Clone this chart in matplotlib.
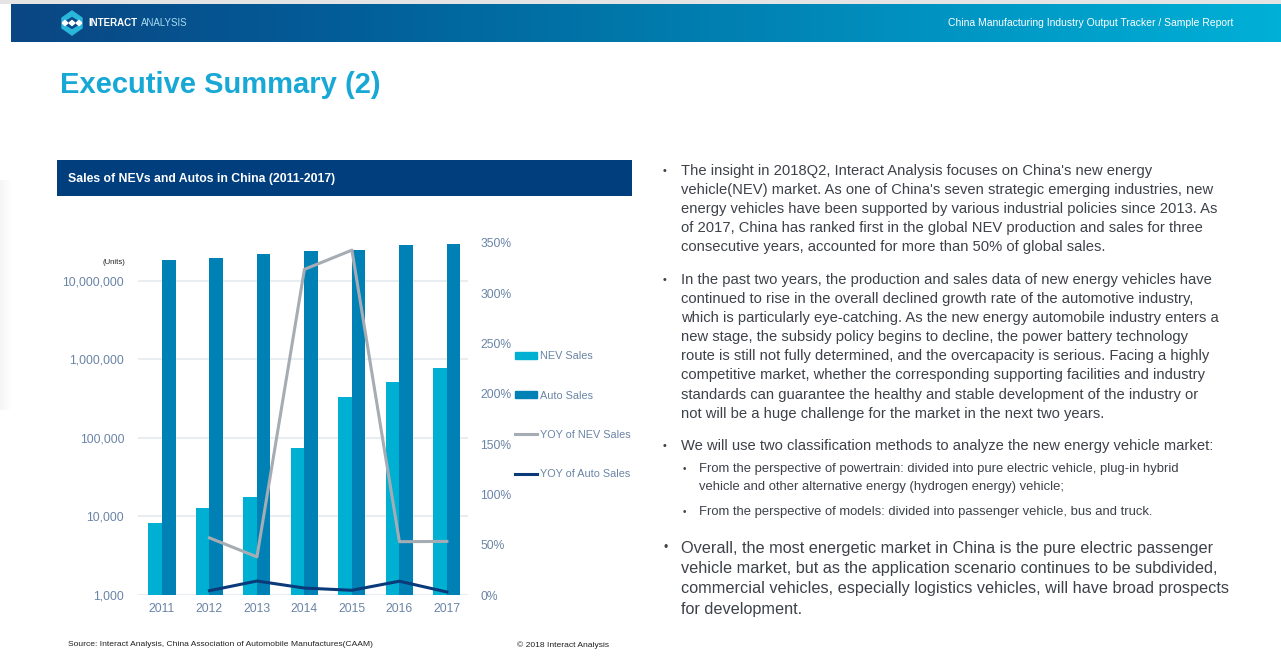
import numpy as np
import matplotlib
matplotlib.use("Agg")
import matplotlib.pyplot as plt
from matplotlib.patches import Rectangle, Polygon
from matplotlib.lines import Line2D
from matplotlib.ticker import FixedLocator, FuncFormatter
from matplotlib.colors import LinearSegmentedColormap

# ---------------- data ----------------
years = ["2011", "2012", "2013", "2014", "2015", "2016", "2017"]
nev_sales = [8159, 12791, 17642, 74763, 331092, 507000, 777000]
auto_sales = [18505000, 19306000, 21984000, 23492000, 24598000, 28028000, 28879000]
yoy_nev = [None, 0.568, 0.379, 3.238, 3.429, 0.530, 0.533]
yoy_auto = [None, 0.043, 0.139, 0.069, 0.047, 0.137, 0.030]
left_ticks = [1000, 10000, 100000, 1000000, 10000000]
right_ticks = [0, 0.5, 1.0, 1.5, 2.0, 2.5, 3.0, 3.5]

W, H = 1281, 656
FONT = ["Liberation Sans", "DejaVu Sans"]
plt.rcParams["font.family"] = FONT

fig = plt.figure(figsize=(W / 100, H / 100), dpi=100)
bg = fig.add_axes([0, 0, 1, 1])
bg.set_xlim(0, W)
bg.set_ylim(H, 0)
bg.axis("off")

# faint left-edge shadow
shade = LinearSegmentedColormap.from_list("sh", ["#f5f5f5", "#ffffff"])
bg.imshow(np.linspace(0, 1, 64)[None, :], cmap=shade, extent=(0, 11, 410, 180), aspect="auto", zorder=0)

# top grey strip
bg.add_patch(Rectangle((0, 0), W, 4, color="#e4e4e4", lw=0))
# header gradient
grad = np.linspace(0, 1, 256)[None, :]
cmap = LinearSegmentedColormap.from_list("hdr", ["#0a4683", "#035c98", "#0079ab", "#0096c4", "#00b0d6"])
bg.imshow(grad, cmap=cmap, extent=(11, W, 42, 4), aspect="auto", zorder=1)
# logo
cx, cy = 72, 23
bg.add_patch(Polygon([(cx - 10, cy - 5), (cx, cy - 12), (cx + 10, cy - 5), (cx + 10, cy - 1), (cx, cy - 7), (cx - 10, cy - 1)],
                     closed=True, color="#2bb7dc", zorder=3))
bg.add_patch(Polygon([(cx - 10, cy + 1), (cx, cy + 7), (cx + 10, cy + 1), (cx + 10, cy + 5), (cx, cy + 12), (cx - 10, cy + 5)],
                     closed=True, color="#2bb7dc", zorder=3))
for dx in (-7, 0, 7):
    bg.add_patch(Polygon([(cx + dx - 3, cy), (cx + dx, cy - 2.5), (cx + dx + 3, cy), (cx + dx, cy + 2.5)],
                         closed=True, color="#ffffff", zorder=3))
t1 = bg.text(88, 23.5, "INTERACT", color="white", fontsize=7, fontweight="bold", va="center", ha="left", zorder=4)
bg.annotate("ANALYSIS", xy=(1, 0.5), xycoords=t1, xytext=(2.5, 0), textcoords="offset points",
            color="#a9dcee", fontsize=7, va="center", ha="left", zorder=4)
bg.text(1233, 23.5, "China Manufacturing Industry Output Tracker / Sample Report", color="white",
        fontsize=7.5, va="center", ha="right", zorder=4)

# title
bg.text(60, 85, "Executive Summary (2)", color="#18a8d6", fontsize=21, fontweight="bold", va="center", ha="left")

# chart title bar
bg.add_patch(Rectangle((57, 160), 575, 36, color="#003e7e", lw=0))
bg.text(68, 179, "Sales of NEVs and Autos in China (2011-2017)", color="white", fontsize=8.8,
        fontweight="bold", va="center", ha="left")

# source / copyright
bg.text(68, 645, "Source: Interact Analysis, China Association of Automobile Manufactures(CAAM)",
        color="#222222", fontsize=6.1, va="center", ha="left")
bg.text(517, 645, "\u00a9 2018 Interact Analysis", color="#222222", fontsize=6.1, va="center", ha="left")
bg.text(125, 263, "(Units)", color="#222222", fontsize=5.5, va="center", ha="right")

# ---------------- chart ----------------
L, R, T, B = 138, 468, 243, 595
ax = fig.add_axes([L / W, (H - B) / H, (R - L) / W, (B - T) / H])
x = np.arange(len(years))
bw = 0.285
ax.bar(x - bw / 2, nev_sales, width=bw, color="#00b0d2", label="NEV Sales", zorder=3)
ax.bar(x + bw / 2, auto_sales, width=bw, color="#0081b5", label="Auto Sales", zorder=3)
ax.set_yscale("log")
ax.set_ylim(1000, 1000 * 10 ** ((B - T) / 78.6))
ax.set_xlim(-0.505, 6.445)
ax.yaxis.set_major_locator(FixedLocator(left_ticks))
ax.yaxis.set_minor_locator(FixedLocator([]))
ax.yaxis.set_major_formatter(FuncFormatter(lambda v, p: f"{int(round(v)):,}"))
ax.set_xticks(x)
ax.set_xticklabels(years)
ax.grid(axis="y", color="#e8edf2", lw=1.5, zorder=0)
for s in ax.spines.values():
    s.set_visible(False)
ax.tick_params(axis="both", length=0, colors="#6a84a6", labelsize=8.7)
ax.tick_params(axis="y", pad=10)
ax.tick_params(axis="x", pad=6)

ax2 = ax.twinx()
yn = [np.nan if v is None else v for v in yoy_nev]
ya = [np.nan if v is None else v for v in yoy_auto]
ax2.plot(x, yn, color="#a6acb3", lw=2.2, label="YOY of NEV Sales", zorder=4)
ax2.plot(x, ya, color="#0b3a7a", lw=2.2, label="YOY of Auto Sales", zorder=4)
ax2.set_ylim(0, 3.5)
ax2.set_yticks(right_ticks)
ax2.yaxis.set_major_formatter(FuncFormatter(lambda v, p: f"{v * 100:.0f}%"))
for s in ax2.spines.values():
    s.set_visible(False)
ax2.tick_params(axis="y", length=0, colors="#6a84a6", labelsize=8.7, pad=9)

handles = [Rectangle((0, 0), 1, 1, color="#00b0d2"), Rectangle((0, 0), 1, 1, color="#0081b5"),
           Line2D([], [], color="#a6acb3", lw=2.2), Line2D([], [], color="#0b3a7a", lw=2.2)]
labels = ["NEV Sales", "Auto Sales", "YOY of NEV Sales", "YOY of Auto Sales"]
fig.legend(handles, labels, loc="upper left", bbox_to_anchor=(510 / W, 1 - 346 / H), frameon=False,
           fontsize=7.8, labelcolor="#6a84a6", labelspacing=2.7, handlelength=2.0, handleheight=0.6,
           handletextpad=0.25, borderpad=0)

# ---------------- right text ----------------
TC = "#3d4148"
def para(lines, x0, y0, dy, fs, bx):
    bg.text(bx, y0, "\u2022", color=TC, fontsize=fs * 0.75, va="center", ha="left")
    for i, ln in enumerate(lines):
        bg.text(x0, y0 + i * dy, ln, color=TC, fontsize=fs, va="center", ha="left")

para(["The insight in 2018Q2, Interact Analysis focuses on China's new energy",
      "vehicle(NEV) market. As one of China's seven strategic emerging industries, new",
      "energy vehicles have been supported by various industrial policies since 2013. As",
      "of 2017, China has ranked first in the global NEV production and sales for three",
      "consecutive years, accounted for more than 50% of global sales."], 681, 171, 19.1, 10.6, 663)
para(["In the past two years, the production and sales data of new energy vehicles have",
      "continued to rise in the overall declined growth rate of the automotive industry,",
      "which is particularly eye-catching. As the new energy automobile industry enters a",
      "new stage, the subsidy policy begins to decline, the power battery technology",
      "route is still not fully determined, and the overcapacity is serious. Facing a highly",
      "competitive market, whether the corresponding supporting facilities and industry",
      "standards can guarantee the healthy and stable development of the industry or",
      "not will be a huge challenge for the market in the next two years."], 681, 280, 19.1, 10.6, 663)
para(["We will use two classification methods to analyze the new energy vehicle market:"],
     681, 446, 19, 10.6, 663)
para(["From the perspective of powertrain: divided into pure electric vehicle, plug-in hybrid",
      "vehicle and other alternative energy (hydrogen energy) vehicle;"], 699, 469, 18, 9.35, 683)
para(["From the perspective of models: divided into passenger vehicle, bus and truck."],
     699, 512, 18, 9.35, 683)
para(["Overall, the most energetic market in China is the pure electric passenger",
      "vehicle market, but as the application scenario continues to be subdivided,",
      "commercial vehicles, especially logistics vehicles, will have broad prospects",
      "for development."], 681, 548, 20.4, 11.7, 663)

fig.savefig("out.png", dpi=100)
